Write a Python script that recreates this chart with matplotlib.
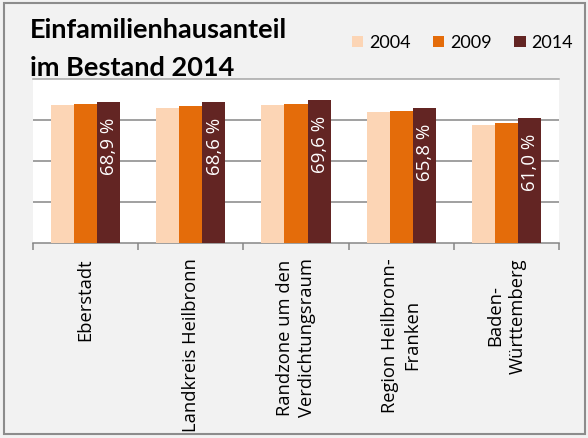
import matplotlib
matplotlib.use("Agg")
import matplotlib.pyplot as plt
from matplotlib.patches import Rectangle
import numpy as np

# data
categories = ["Eberstadt", "Landkreis Heilbronn", "Randzone um den\nVerdichtungsraum",
              "Region Heilbronn-\nFranken", "Baden-\nWürttemberg"]
years = ["2004", "2009", "2014"]
v2004 = [67.2, 66.0, 67.1, 63.9, 57.8]
v2009 = [67.9, 66.6, 67.6, 64.3, 58.3]
v2014 = [68.9, 68.6, 69.6, 65.8, 61.0]
colors = ["#fcd5b5", "#e46c0a", "#632523"]

W, H = 588, 438
fig = plt.figure(figsize=(W / 100, H / 100), dpi=100)
fig.patch.set_facecolor("#f2f2f2")

# outer border
fig.patches.append(Rectangle((4 / W, 4 / H), 581 / W, 431 / H, transform=fig.transFigure,
                             fill=False, edgecolor="#8c8c8c", linewidth=1.5))

left, right, top, bottom = 33, 559, 79, 243
ax = fig.add_axes([left / W, 1 - bottom / H, (right - left) / W, (bottom - top) / H])
ax.set_facecolor("white")

x = np.arange(len(categories))
bw = 0.219
series = [v2004, v2009, v2014]
for k, (vals, c, lab) in enumerate(zip(series, colors, years)):
    ax.bar(x + (k - 1) * bw, vals, width=bw, color=c, label=lab, zorder=3)

# value labels inside the 2014 bars
for xi, v in zip(x, v2014):
    ax.annotate(f"{v:.1f} %".replace(".", ","), xy=(xi + bw, v), xytext=(0.5, -11.5),
                textcoords="offset points", rotation=90, ha="center", va="top",
                color="white", fontsize=13.5, family="Open Sans", zorder=4)

ax.set_xlim(-0.5, len(categories) - 0.5)
ax.set_ylim(0, 80)
ax.set_yticks([20, 40, 60])
ax.yaxis.grid(True, color="#868686", linewidth=1.1, zorder=0)
ax.tick_params(axis="y", left=False, labelleft=False)

ax.set_xticks(x)
ax.set_xticklabels(categories, rotation=90, va="top", ha="center", multialignment="center",
                   fontsize=13.2, family="Open Sans", linespacing=1.3)
ax.tick_params(axis="x", which="major", length=0, pad=10.8)
ax.set_xticks(np.arange(len(categories) + 1) - 0.5, minor=True)
ax.tick_params(axis="x", which="minor", length=5, width=1.1, color="#868686", direction="out")

for s in ["left", "right"]:
    ax.spines[s].set_visible(False)
ax.spines["bottom"].set_color("#868686")
ax.spines["bottom"].set_linewidth(1.1)
ax.spines["top"].set_color("#a6a6a6")
ax.spines["top"].set_linewidth(1.1)

# title
fig.text(30 / W, 1 - 38 / H, "Einfamilienhausanteil", fontsize=19.5, fontweight="bold",
         family="Lato", va="baseline", ha="left")
fig.text(30 / W, 1 - 76.5 / H, "im Bestand 2014", fontsize=19.5, fontweight="bold",
         family="Lato", va="baseline", ha="left")

# legend
fig.legend(loc="center left", bbox_to_anchor=(352 / W, 1 - 43 / H), ncol=3, frameon=False,
           prop={"family": "Lato", "size": 13}, handlelength=0.62, handleheight=0.62,
           handletextpad=0.32, columnspacing=1.25, borderpad=0, borderaxespad=0)

fig.savefig("out.png", dpi=100, facecolor=fig.get_facecolor())
